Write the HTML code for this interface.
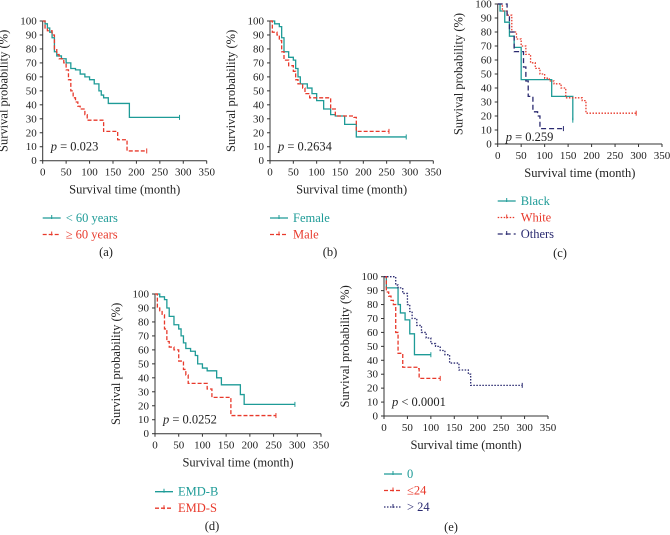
<!DOCTYPE html>
<html><head><meta charset="utf-8"><style>
body{margin:0;background:#fff}
svg{display:block}
svg text{font-family:"Liberation Serif","Times New Roman",serif}
</style></head><body>
<svg id="c" width="670" height="535" viewBox="0 0 670 535" font-family="Liberation Serif, serif"></svg>
<script>
// ---- data ----
const xTicks=[0,50,100,150,200,250,300,350];
const yTicks=[0,10,20,30,40,50,60,70,80,90,100];
// (a)
const aYoungT=[0,5,10,15,20,25,30,40,50,60,70,80,90,100,110,120,125,130,140,185,292];
const aYoungV=[100,98,95,92,88,78,75,73,70,66,65,62,60,58,55,50,47,45,41,31,31];
const aOldT=[0,5,10,20,25,30,35,45,50,55,60,65,70,75,80,90,95,130,160,180,222];
const aOldV=[100,95,93,90,80,76,73,70,65,58,50,45,42,39,37,33,29,21,15,7,7];
// (b)
const bFemT=[0,10,20,25,30,40,50,55,60,65,80,90,100,115,130,140,160,185,292];
const bFemV=[100,98,96,88,78,74,72,66,60,55,52,48,43,37,33,32,26,17,17];
const bMaleT=[0,5,15,20,25,30,40,50,55,60,70,75,85,100,130,140,180,185,255];
const bMaleV=[100,92,90,86,78,72,68,64,58,55,52,48,45,45,37,32,31,21,21];
// (c)
const cBlackT=[0,5,15,25,35,50,115,160,160];
const cBlackV=[100,95,87,77,69,46,34,34,17];
const cWhiteT=[0,10,20,30,40,50,60,70,80,90,100,110,120,135,145,180,188,295];
const cWhiteV=[100,95,92,80,75,70,64,58,54,50,47,45,43,40,33,31,22,22];
const cOtherT=[0,20,25,35,45,55,60,65,75,85,90,140];
const cOtherV=[100,92,80,66,66,55,45,34,23,20,11,11];
// (d)
const dBT=[0,10,20,25,30,40,50,55,60,65,75,85,90,100,110,130,140,180,188,295];
const dBV=[100,98,96,90,84,78,75,70,65,61,59,56,50,47,45,40,35,28,21,21];
const dST=[0,5,10,15,20,25,30,40,50,60,65,70,80,110,120,130,160,255];
const dSV=[100,90,88,85,75,66,62,60,52,46,42,36,36,32,26,26,13,13];
// (e)
const e0T=[0,5,20,30,35,45,55,65,100];
const e0V=[100,92,92,80,74,69,59,44,44];
const e24T=[0,5,10,15,20,25,30,40,70,75,120];
const e24V=[100,89,86,83,80,60,45,35,34,27,27];
const eGtT=[0,20,25,30,40,50,55,60,70,80,90,100,110,120,130,140,160,180,185,295];
const eGtV=[100,100,94,92,88,80,75,70,65,60,56,52,50,47,44,38,33,30,22,22];

const TEAL="#1e9b97",RED="#e8392b",NAVY="#2a2a70",AX="#333";
const FF="Liberation Serif, serif";
const svg=document.getElementById('c');
const NS="http://www.w3.org/2000/svg";
function mk(tag,attrs,parent){const e=document.createElementNS(NS,tag);for(const k in attrs)e.setAttribute(k,attrs[k]);if(tag==='text')e.setAttribute('font-family',FF);(parent||svg).appendChild(e);return e;}

const panels=[
 {id:'a',x0:42.7,x1:206.7,y0:160.7,y1:21,ly:218,cap:106,capY:259,pval:'0.023',pop:'=',pv:10,
  series:[[aYoungT,aYoungV,TEAL,'none','< 60 years'],[aOldT,aOldV,RED,'4,2','≥ 60 years']]},
 {id:'b',x0:270,x1:433.3,y0:160.7,y1:21,ly:218,cap:330,capY:259,pval:'0.2634',pop:'=',pv:10,
  series:[[bFemT,bFemV,TEAL,'none','Female'],[bMaleT,bMaleV,RED,'4,2','Male']]},
 {id:'c',x0:497.7,x1:662,y0:144,y1:4,ly:201,cap:560,capY:260,pval:'0.259',pop:'=',pv:5,
  series:[[cBlackT,cBlackV,TEAL,'none','Black'],[cWhiteT,cWhiteV,RED,'1.5,1.5','White'],[cOtherT,cOtherV,NAVY,'5,3','Others']]},
 {id:'d',x0:155,x1:321,y0:433.7,y1:294,ly:491.7,cap:212,capY:533,pval:'0.0252',pop:'=',pv:10,
  series:[[dBT,dBV,TEAL,'none','EMD-B'],[dST,dSV,RED,'4,2','EMD-S']]},
 {id:'e',x0:384,x1:548,y0:416,y1:276.7,ly:474,cap:451,capY:534,pval:'0.0001',pop:'<',pv:10,
  series:[[e0T,e0V,TEAL,'none','0'],[e24T,e24V,RED,'4,2','≤24'],[eGtT,eGtV,NAVY,'1.5,1.5','> 24']]}
];

panels.forEach(p=>{
  const g=mk('g',{});
  
  
  const sx=t=>p.x0+(p.x1-p.x0)*t/350;
  const sy=v=>p.y0-(p.y0-p.y1)*v/100;
  const ax=mk('path',{d:`M${p.x0},${p.y1} V${p.y0} H${p.x1}`,stroke:AX,fill:'none','stroke-width':1},g);
  
  
  yTicks.forEach(v=>{
    mk('line',{x1:p.x0-3,x2:p.x0,y1:sy(v),y2:sy(v),stroke:AX},g);
    const t=mk('text',{x:p.x0-6,y:sy(v)+3.5,'font-size':11,'text-anchor':'end',fill:'#222'},g);
    t.textContent=v;
    
    
  });
  xTicks.forEach(v=>{
    mk('line',{x1:sx(v),x2:sx(v),y1:p.y0,y2:p.y0+3,stroke:AX},g);
    const t=mk('text',{x:sx(v),y:p.y0+15,'font-size':11,'text-anchor':'middle',fill:'#222'},g);
    t.textContent=v;
    
    
  });
  const xt=mk('text',{x:(p.x0+p.x1)/2,y:p.y0+33,'font-size':12.5,'text-anchor':'middle',fill:'#222'},g);
  xt.textContent='Survival time (month)';
  
  
  const yc=(p.y0+p.y1)/2, yx=p.x0-35;
  const yt=mk('text',{x:yx,y:yc,'font-size':12.5,'text-anchor':'middle',fill:'#222',transform:`rotate(-90 ${yx} ${yc})`},g);
  yt.textContent='Survival probability (%)';
  
  
  const pt=mk('text',{x:p.x0+8,y:sy(p.pv)+4,'font-size':12.5,fill:'#222'},g);
  pt.innerHTML='<tspan font-style="italic">p</tspan> '+p.pop+' '+p.pval;
  
  
  p.series.forEach((s,i)=>{
    const [T,V,col,dash,label]=s;
    let d=`M${sx(T[0])},${sy(V[0])}`;
    for(let k=1;k<T.length;k++){d+=` H${sx(T[k])} V${sy(V[k])}`;}
    const path=mk('path',{d,stroke:col,fill:'none','stroke-width':1.3,'stroke-dasharray':dash},g);
    
    
    const ex=sx(T[T.length-1]),ey=sy(V[V.length-1]);
    mk('line',{x1:ex,x2:ex,y1:ey-2.5,y2:ey+2.5,stroke:col},g);
    const ly=p.ly+i*16.5;
    const lg=mk('g',{},g);
    
    
    mk('line',{x1:p.x0,x2:p.x0+18,y1:ly,y2:ly,stroke:col,'stroke-width':1.3,'stroke-dasharray':dash},lg);
    mk('line',{x1:p.x0+9,x2:p.x0+9,y1:ly-3,y2:ly+1,stroke:col},lg);
    const lt=mk('text',{x:p.x0+23,y:ly+4,'font-size':12.5,fill:col},lg);
    lt.textContent=label;
  });
  const cp=mk('text',{x:p.cap,y:p.capY-3,'font-size':12.5,'text-anchor':'middle',fill:'#222'},g);
  cp.textContent='('+p.id+')';
  
  
});
</script>
</body></html>
